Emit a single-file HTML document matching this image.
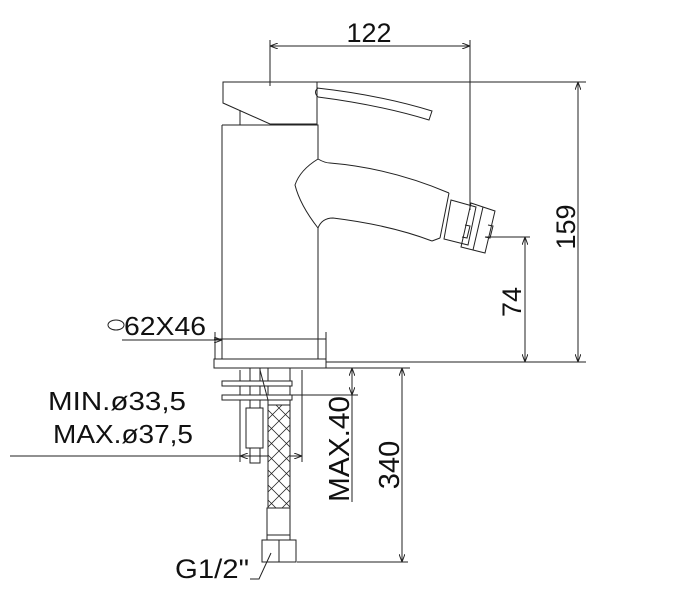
<!DOCTYPE html>
<html><head><style>body{margin:0;background:#fff}svg{display:block}</style></head><body>
<svg width="677" height="600" viewBox="0 0 677 600" xmlns="http://www.w3.org/2000/svg" font-family="Liberation Sans, sans-serif" fill="none" stroke="#222" stroke-width="1">
<defs><marker id="a" markerWidth="8" markerHeight="6" refX="8" refY="3" orient="auto-start-reverse"><path d="M0,0 L8,3 L0,6" fill="none" stroke="#222"/></marker></defs>
<!-- 122 -->
<line x1="270" y1="40" x2="270" y2="86"/>
<line x1="470" y1="40" x2="470" y2="210"/>
<line x1="270" y1="46" x2="470" y2="46" marker-start="url(#a)" marker-end="url(#a)"/>
<text x="369" y="42" font-size="27" fill="#111" stroke="none" text-anchor="middle">122</text>
<!-- 159 -->
<line x1="317" y1="82" x2="586" y2="82"/>
<line x1="326" y1="362" x2="586" y2="362"/>
<line x1="578" y1="82" x2="578" y2="362" marker-start="url(#a)" marker-end="url(#a)"/>
<text transform="translate(575,227) rotate(-90)" font-size="27" fill="#111" stroke="none" text-anchor="middle">159</text>
<!-- 74 -->
<line x1="485" y1="237" x2="530" y2="237"/>
<line x1="525" y1="237" x2="525" y2="362" marker-start="url(#a)" marker-end="url(#a)"/>
<text transform="translate(521,302) rotate(-90)" font-size="27" fill="#111" stroke="none" text-anchor="middle">74</text>
<!-- cap -->
<path d="M223,82 L317,82 L317,124 L270,124 L223,103 Z"/>
<line x1="240" y1="110" x2="240" y2="125"/>
<!-- lever -->
<path d="M317,88 Q380,95 432,111 L429,120 Q380,105 318,97"/>
<path d="M318,88 Q313,92 318,97"/>
<!-- body -->
<path d="M222,125 L318,125 L318,159 M318,228 L318,359 M222,125 L222,359"/>
<path d="M318,159 Q300,170 295,185 Q300,205 318,228"/>
<path d="M318,159 Q325,163 330,163 Q390,168 449,193"/>
<path d="M318,228 Q322,218 333,218 Q390,225 432,241"/>
<!-- nozzle -->
<path d="M449,193 L440,238 M440,238 L432,241"/>
<path d="M451,200 L476,207 L468,245 L444,239 Z"/>
<path d="M471,203 L495,211 L485,253 L461,247 Z"/>
<line x1="483" y1="207" x2="473" y2="250"/>
<path d="M465,225 L470,226 L467,238 L462,237"/>
<path d="M488,225 L493,226 L490,238 L485,237"/>
<line x1="490" y1="237" x2="530" y2="237"/>
<!-- base -->
<line x1="214" y1="339" x2="326" y2="339"/>
<line x1="122" y1="340" x2="222" y2="340" marker-end="url(#a)"/>
<line x1="215" y1="332" x2="215" y2="359"/><line x1="326" y1="332" x2="326" y2="359"/>
<rect x="214" y="359" width="112" height="9"/>
<ellipse cx="116" cy="325" rx="8" ry="5"/>
<text x="124" y="335" font-size="26" fill="#111" stroke="none" textLength="82" lengthAdjust="spacingAndGlyphs">62X46</text>
<!-- MAX.40 / 340 -->
<line x1="326" y1="368" x2="410" y2="368"/>
<line x1="292" y1="395" x2="358" y2="395"/>
<line x1="352" y1="368" x2="352" y2="395" marker-start="url(#a)" marker-end="url(#a)"/>
<line x1="352" y1="395" x2="352" y2="502"/>
<text transform="translate(349,449) rotate(-90)" font-size="29" fill="#111" stroke="none" text-anchor="middle" textLength="106" lengthAdjust="spacingAndGlyphs">MAX.40</text>
<line x1="402" y1="368" x2="402" y2="562" marker-start="url(#a)" marker-end="url(#a)"/>
<line x1="297" y1="562" x2="408" y2="562"/>
<text transform="translate(399,465) rotate(-90)" font-size="29" fill="#111" stroke="none" text-anchor="middle">340</text>
<!-- hose fittings -->
<line x1="240" y1="370" x2="240" y2="462"/><line x1="302" y1="370" x2="302" y2="462"/>
<line x1="10" y1="456" x2="240" y2="456"/>
<line x1="240" y1="456" x2="302" y2="456" marker-start="url(#a)" marker-end="url(#a)"/>
<rect x="250" y="368" width="10" height="95"/>
<rect x="268" y="368" width="22" height="37"/>
<rect x="222" y="381" width="70" height="5" fill="#fff"/>
<rect x="222" y="395" width="70" height="5" fill="#fff"/>
<rect x="246" y="408" width="17" height="40" fill="#fff"/>
<path d="M260,370 L268,400"/>
<rect x="268" y="405" width="22" height="103" fill="#fff"/>
<path d="M268,410 L290,432 M268,425 L290,447 M268,440 L290,462 M268,455 L290,477 M268,470 L290,492 M268,485 L290,507 M268,500 L276,508 M276,405 L290,419 M290,410 L268,432 M290,425 L268,447 M290,440 L268,462 M290,455 L268,477 M290,470 L268,492 M290,485 L268,507 M290,500 L282,508 M282,405 L268,419" stroke-width="0.8"/>
<rect x="267" y="508" width="23" height="32"/>
<line x1="267" y1="535" x2="290" y2="535"/>
<rect x="262" y="540" width="34" height="22"/>
<line x1="279" y1="540" x2="279" y2="562"/>
<path d="M250,579 L259,579 L271,553"/>
<text x="175" y="578" font-size="27" fill="#111" stroke="none" textLength="74" lengthAdjust="spacingAndGlyphs">G1/2"</text>
<text x="48" y="410" font-size="26" fill="#111" stroke="none" textLength="138" lengthAdjust="spacingAndGlyphs">MIN.ø33,5</text>
<text x="53" y="443" font-size="26" fill="#111" stroke="none" textLength="140" lengthAdjust="spacingAndGlyphs">MAX.ø37,5</text>
</svg>
</body></html>
